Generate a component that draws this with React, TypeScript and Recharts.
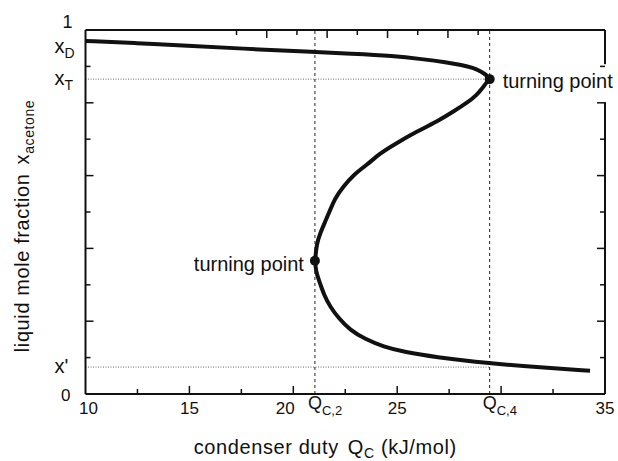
import React from 'react';
import { LineChart, Line, XAxis, YAxis, ReferenceLine, ReferenceDot } from 'recharts';

// S-shaped steady-state curve, traced in order: upper branch -> middle -> lower branch
const dutyQc = [
  10, 12.5, 14.87, 17.5, 20.8, 22.8, 24.81, 26.2, 27.38, 28.1, 28.66, 29.0, 29.31, 29.45,
  29.14, 28.83, 28.34, 27.7, 27.06, 25.94, 24.81, 24.17, 23.53, 22.89, 22.41, 22.01, 21.77,
  21.53, 21.29, 21.13, 21.04,
  21.09, 21.29, 21.48, 21.77, 22.2, 22.73, 23.45, 24.33, 25.38, 26.74, 29.47, 31.87, 34.28,
];
const xAcetone = [
  0.97, 0.964, 0.957, 0.949, 0.94, 0.935, 0.929, 0.92, 0.911, 0.904, 0.896, 0.887, 0.876, 0.865,
  0.844, 0.821, 0.799, 0.776, 0.753, 0.721, 0.684, 0.661, 0.629, 0.602, 0.57, 0.538, 0.505,
  0.473, 0.441, 0.414, 0.366,
  0.335, 0.304, 0.272, 0.24, 0.207, 0.176, 0.151, 0.13, 0.115, 0.102, 0.084, 0.073, 0.064,
];

// turning points and marked values
const QC2 = 21.04;
const QC4 = 29.45;
const xTurnLow = 0.366;
const xT = 0.865;
const xD = 0.952;
const xPrime = 0.074;

const xTicks = [10, 12.5, 15, 17.5, 20, 22.5, 25, 27.5, 30, 32.5, 35];
const xTickLabels = [10, 15, 20, 25, 35];
const qMarks = [QC2, QC4];
const qMarkSubs = ['C,2', 'C,4'];

const yTicks = [0, 0.1, 0.2, 0.3, 0.4, 0.5, 0.6, 0.7, 0.8, 0.9, 1];
const yNamed = [xD, xT, xPrime];
const yNamedMain = ['x', 'x', "x'"];
const yNamedSub = ['D', 'T', ''];

const data = dutyQc.map((q, i) => ({ q, x: xAcetone[i] }));

const FONT = 'Liberation Sans, Arial, Helvetica, sans-serif';
const INK = '#111';

const isMajorX = (v: number) => v % 5 === 0;
const isMajorY = (v: number) => Math.round(v * 10) % 2 === 0;

const BottomTick = (props: any) => {
  const { x, y, payload } = props;
  const v = payload.value;
  const qi = qMarks.indexOf(v);
  if (qi >= 0) {
    return (
      <text x={x - 7} y={y + 15} fontSize={18} fontFamily={FONT} fill={INK} textAnchor="start">
        Q<tspan fontSize={13} dy={6}>{qMarkSubs[qi]}</tspan>
      </text>
    );
  }
  const inner = v > 10 && v < 35;
  const dx = v === 20 ? -8 : v === 10 ? 3 : 0;
  return (
    <g>
      {inner && <line x1={x} x2={x} y1={y} y2={y - (isMajorX(v) ? 8 : 5)} stroke={INK} strokeWidth={1.5} />}
      {xTickLabels.includes(v) && (
        <text x={x + dx} y={y + 20} fontSize={17} fontFamily={FONT} fill={INK} textAnchor="middle">
          {v}
        </text>
      )}
    </g>
  );
};

const TopTick = (props: any) => {
  const { x, y, payload } = props;
  const v = payload.value;
  if (v <= 10 || v >= 35) return <g />;
  return <line x1={x} x2={x} y1={y} y2={y + (isMajorX(v) ? 8 : 5)} stroke={INK} strokeWidth={1.5} />;
};

const LeftTick = (props: any) => {
  const { x, y, payload } = props;
  const v = payload.value;
  const ni = yNamed.indexOf(v);
  if (ni >= 0) {
    return (
      <text x={x - 31} y={y + 6} fontSize={20} fontFamily={FONT} fill={INK} textAnchor="start">
        {yNamedMain[ni]}
        {yNamedSub[ni] && <tspan fontSize={14} dy={5}>{yNamedSub[ni]}</tspan>}
      </text>
    );
  }
  return (
    <g>
      {v > 0 && v < 1 && (
        <line x1={x} x2={x + (isMajorY(v) ? 8 : 5)} y1={y} y2={y} stroke={INK} strokeWidth={1.5} />
      )}
      {v === 1 && (
        <text x={x - 13} y={y - 2} fontSize={18} fontFamily={FONT} fill={INK} textAnchor="end">1</text>
      )}
      {v === 0 && (
        <text x={x - 15} y={y + 7} fontSize={17} fontFamily={FONT} fill={INK} textAnchor="end">0</text>
      )}
    </g>
  );
};

const RightTick = (props: any) => {
  const { x, y, payload } = props;
  const v = payload.value;
  if (v <= 0 || v >= 1) return <g />;
  return <line x1={x} x2={x - (isMajorY(v) ? 8 : 5)} y1={y} y2={y} stroke={INK} strokeWidth={1.5} />;
};

const XTitle = (props: any) => {
  const vb = props.viewBox;
  return (
    <text
      x={vb.x + vb.width / 2 - 20}
      y={454}
      fontSize={20}
      letterSpacing={0.6}
      fontFamily={FONT}
      fill={INK}
      textAnchor="middle"
    >
      condenser duty<tspan dx={9}>Q</tspan>
      <tspan fontSize={14} dy={4}>C</tspan>
      <tspan dy={-4}>{' (kJ/mol)'}</tspan>
    </text>
  );
};

const YTitle = (props: any) => {
  const vb = props.viewBox;
  const cx = 29;
  const cy = vb.y + vb.height / 2 + 14;
  return (
    <text
      x={cx}
      y={cy}
      transform={`rotate(-90, ${cx}, ${cy})`}
      fontSize={20}
      letterSpacing={0.6}
      fontFamily={FONT}
      fill={INK}
      textAnchor="middle"
    >
      liquid mole fraction<tspan dx={9}>x</tspan>
      <tspan fontSize={14} dy={5}>acetone</tspan>
    </text>
  );
};

const UpperTurnLabel = (props: any) => {
  const vb = props.viewBox;
  const cx = vb.x + vb.width / 2;
  const cy = vb.y + vb.height / 2;
  return (
    <g>
      <rect x={cx + 11} y={cy - 15} width={130} height={38} fill="#fff" />
      <text x={cx + 13} y={cy + 9} fontSize={20} fontFamily={FONT} fill={INK}>turning point</text>
    </g>
  );
};

const LowerTurnLabel = (props: any) => {
  const vb = props.viewBox;
  const cx = vb.x + vb.width / 2;
  const cy = vb.y + vb.height / 2;
  return (
    <text x={cx - 11} y={cy + 10} fontSize={20} fontFamily={FONT} fill={INK} textAnchor="end">
      turning point
    </text>
  );
};

export default function App() {
  return (
    <div style={{ position: 'absolute', left: 0, top: 0, width: 618, height: 461, background: '#fff' }}>
      <LineChart width={618} height={461} data={data} margin={{ top: 29, right: 12, bottom: 27, left: 15 }}>
        <XAxis
          dataKey="q"
          type="number"
          domain={[10, 35]}
          allowDataOverflow
          ticks={[...xTicks, ...qMarks]}
          interval={0}
          height={40}
          tickSize={0}
          tickMargin={0}
          tickLine={false}
          tick={<BottomTick />}
          axisLine={{ stroke: INK, strokeWidth: 2 }}
          label={{ content: <XTitle /> }}
        />
        <XAxis
          xAxisId="top"
          orientation="top"
          type="number"
          domain={[10, 35]}
          allowDataOverflow
          ticks={xTicks}
          interval={0}
          height={1}
          tickSize={0}
          tickMargin={0}
          tickLine={false}
          tick={<TopTick />}
          axisLine={{ stroke: INK, strokeWidth: 2 }}
        />
        <YAxis
          type="number"
          domain={[0, 1]}
          allowDataOverflow
          ticks={[...yTicks, ...yNamed]}
          interval={0}
          width={70.5}
          tickSize={0}
          tickMargin={0}
          tickLine={false}
          tick={<LeftTick />}
          axisLine={{ stroke: INK, strokeWidth: 2 }}
          label={{ content: <YTitle /> }}
        />
        <YAxis
          yAxisId="right"
          orientation="right"
          type="number"
          domain={[0, 1]}
          allowDataOverflow
          ticks={yTicks}
          interval={0}
          width={1}
          tickSize={0}
          tickMargin={0}
          tickLine={false}
          tick={<RightTick />}
          axisLine={{ stroke: INK, strokeWidth: 2 }}
        />
        <ReferenceLine
          segment={[{ x: 10, y: xT }, { x: QC4, y: xT }]}
          stroke="#666"
          strokeWidth={1}
          strokeDasharray="1 1.5"
        />
        <ReferenceLine
          segment={[{ x: 10, y: xPrime }, { x: QC4, y: xPrime }]}
          stroke="#666"
          strokeWidth={1}
          strokeDasharray="1 1.5"
        />
        <ReferenceLine x={QC2} stroke="#222" strokeWidth={1} strokeDasharray="3 3" />
        <ReferenceLine x={QC4} stroke="#222" strokeWidth={1} strokeDasharray="3 3" />
        <Line
          type="basis"
          dataKey="x"
          stroke={INK}
          strokeWidth={4}
          dot={false}
          activeDot={false}
          isAnimationActive={false}
        />
        <ReferenceDot x={QC4} y={xT} r={5} fill={INK} stroke="none" label={{ content: <UpperTurnLabel /> }} />
        <ReferenceDot x={QC2} y={xTurnLow} r={5} fill={INK} stroke="none" label={{ content: <LowerTurnLabel /> }} />
      </LineChart>
    </div>
  );
}
